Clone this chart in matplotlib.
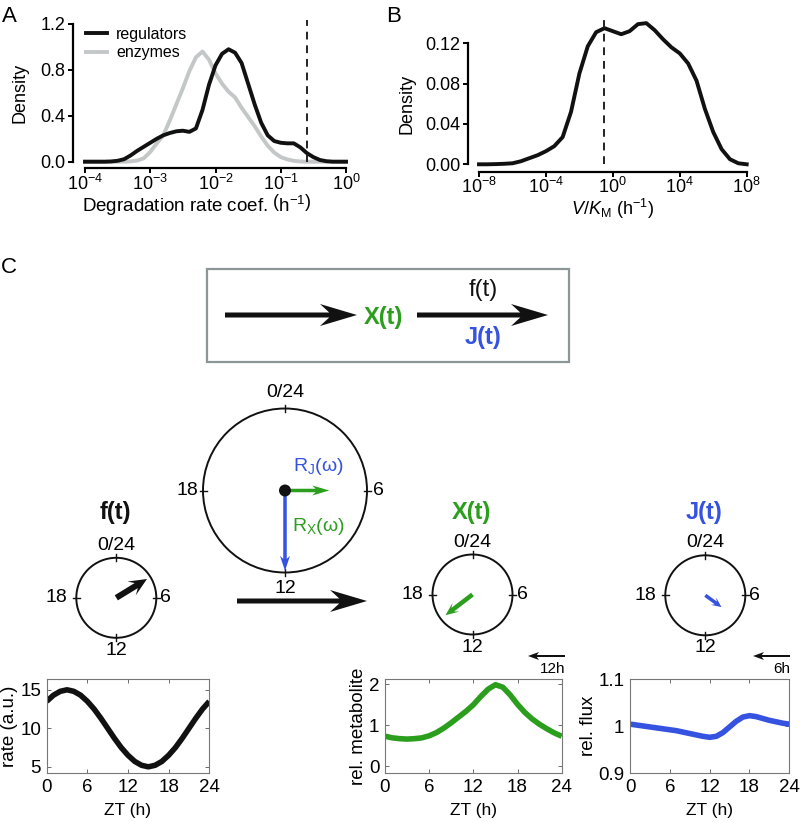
import numpy as np
import matplotlib.pyplot as plt
import matplotlib.patches as mpatches
from matplotlib.ticker import FixedLocator, NullLocator

plt.rcParams['font.family'] = ['Liberation Sans', 'DejaVu Sans']
plt.rcParams['mathtext.fontset'] = 'custom'
plt.rcParams['mathtext.rm'] = 'Liberation Sans'
plt.rcParams['mathtext.it'] = 'Liberation Sans:italic'
plt.rcParams['mathtext.bf'] = 'Liberation Sans:bold'

W, H = 802, 822

# ---- panel A: degradation rate densities (log10 k, density)
deg_logk = [-4.0, -3.9, -3.8, -3.7, -3.6, -3.5, -3.4, -3.3, -3.2, -3.1, -3.0,
            -2.9, -2.8, -2.7, -2.6, -2.5, -2.4, -2.3, -2.2, -2.1, -2.0,
            -1.9, -1.8, -1.7, -1.6, -1.5, -1.4, -1.3, -1.2, -1.1, -1.0,
            -0.9, -0.8, -0.7, -0.6, -0.5, -0.4, -0.3, -0.2, -0.1, 0.0]
regulators = [0, 0, 0, 0, 0.002, 0.008, 0.022, 0.055, 0.095, 0.13, 0.165,
              0.20, 0.23, 0.25, 0.265, 0.27, 0.26, 0.29, 0.45, 0.67, 0.84,
              0.94, 0.98, 0.95, 0.86, 0.68, 0.50, 0.34, 0.23, 0.18, 0.165,
              0.16, 0.16, 0.125, 0.075, 0.04, 0.015, 0.004, 0, 0, 0]
enzymes = [0, 0, 0, 0, 0, 0, 0, 0.003, 0.01, 0.03, 0.085,
           0.16, 0.23, 0.36, 0.50, 0.64, 0.79, 0.91, 0.96, 0.89, 0.77,
           0.68, 0.61, 0.56, 0.47, 0.39, 0.31, 0.22, 0.14, 0.08, 0.04,
           0.02, 0.008, 0.002, 0, 0, 0, 0, 0, 0, 0]
deg_cutoff = 0.25

# ---- panel B: V/KM density
vkm_log = [-8, -7.5, -7, -6.5, -6, -5.5, -5, -4.5, -4, -3.5, -3, -2.5, -2,
           -1.5, -1, -0.5, 0, 0.5, 1, 1.5, 2, 2.5, 3, 3.5, 4, 4.5, 5, 5.5,
           6, 6.5, 7, 7.5, 8]
vkm_density = [0.0, 0.0, 0.0002, 0.0005, 0.001, 0.003, 0.006, 0.009, 0.013,
               0.018, 0.027, 0.052, 0.09, 0.117, 0.131, 0.135, 0.132, 0.129,
               0.132, 0.139, 0.14, 0.133, 0.124, 0.116, 0.110, 0.100, 0.083,
               0.055, 0.032, 0.015, 0.005, 0.001, 0.0]
vkm_cutoff = 0.29

# ---- panel C: time courses
zt = list(range(25))
rate = [13.5, 14.3, 14.8, 15.0, 14.8, 14.3, 13.5, 12.5, 11.3, 10.0, 8.7,
        7.5, 6.5, 5.7, 5.2, 5.0, 5.2, 5.7, 6.5, 7.5, 8.7, 10.0, 11.3, 12.5,
        13.5]
metabolite = [0.73, 0.69, 0.67, 0.66, 0.67, 0.69, 0.74, 0.82, 0.93, 1.06,
              1.20, 1.34, 1.50, 1.70, 1.88, 1.99, 1.93, 1.74, 1.51, 1.31,
              1.15, 1.02, 0.91, 0.81, 0.73]
flux = [1.004, 1.002, 1.000, 0.998, 0.996, 0.994, 0.992, 0.990, 0.987,
        0.984, 0.981, 0.978, 0.976, 0.978, 0.986, 0.998, 1.010, 1.019,
        1.022, 1.020, 1.016, 1.012, 1.009, 1.006, 1.004]

clock_names = ['f(t)', 'X(t)', 'J(t)']
clock_phase = [3.9, 15.5, 8.4]     # h
clock_amp = [0.9, 0.85, 0.5]       # fraction of radius
shift_labels = ['12h', '6h']

GREEN = '#2b9e1e'
BLUE = '#3552e0'
GREY = '#c3c7c7'


def px(l, t, r, b):
    return [l / W, 1 - b / H, (r - l) / W, (b - t) / H]


def stealth(ax, x0, y0, x1, y1, color, shaft, hl, hw, notch=0.25, z=3):
    d = np.hypot(x1 - x0, y1 - y0)
    ux, uy = (x1 - x0) / d, (y1 - y0) / d
    nx, ny = -uy, ux
    bx, by = x1 - ux * hl, y1 - uy * hl
    cx, cy = x1 - ux * hl * (1 - notch), y1 - uy * hl * (1 - notch)
    s, h = shaft / 2, hw / 2
    pts = [(x0 + nx * s, y0 + ny * s), (cx + nx * s, cy + ny * s),
           (bx + nx * h, by + ny * h), (x1, y1),
           (bx - nx * h, by - ny * h), (cx - nx * s, cy - ny * s),
           (x0 - nx * s, y0 - ny * s)]
    ax.add_patch(mpatches.Polygon(pts, closed=True, fc=color, ec='none', zorder=z))


fig = plt.figure(figsize=(W / 100, H / 100), dpi=100)
ov = fig.add_axes([0, 0, 1, 1])
ov.set_xlim(0, W)
ov.set_ylim(H, 0)
ov.axis('off')

# panel letters
ov.text(9, 16, 'A', fontsize=16, ha='center', va='center')
ov.text(394, 16, 'B', fontsize=16, ha='center', va='center')
ov.text(9, 267, 'C', fontsize=16, ha='center', va='center')


def r_style(ax, left_out, bottom_out):
    for s in ['top', 'right']:
        ax.spines[s].set_visible(False)
    ax.spines['left'].set_position(('outward', left_out))
    ax.spines['bottom'].set_position(('outward', bottom_out))
    for s in ['left', 'bottom']:
        ax.spines[s].set_linewidth(1.6)
    ax.patch.set_visible(False)
    ax.xaxis.set_minor_locator(NullLocator())
    ax.tick_params(labelsize=13, width=1.4, length=3.5)
    ax.tick_params(axis='x', pad=0.5)
    ax.tick_params(axis='y', pad=2)


# ---- A
axA = fig.add_axes(px(85, 24, 346, 161.7))
kx = 10 ** np.array(deg_logk)
lg = axA.plot(kx, enzymes, color=GREY, lw=2.8, clip_on=False, label='enzymes')
lb = axA.plot(kx, regulators, color='#111111', lw=2.8, clip_on=False, label='regulators')
axA.vlines(deg_cutoff, 0, 1.235, colors='#222222', linestyles=(0, (4, 3)),
           lw=1.4, clip_on=False)
axA.set_xscale('log')
axA.set_xlim(1e-4, 1)
axA.set_ylim(0, 1.2)
r_style(axA, 8.6, 4.5)
axA.xaxis.set_major_locator(FixedLocator([1e-4, 1e-3, 1e-2, 1e-1, 1]))
axA.set_xticklabels([r'$10^{-4}$', r'$10^{-3}$', r'$10^{-2}$', r'$10^{-1}$', r'$10^{0}$'])
axA.set_yticks([0, 0.4, 0.8, 1.2])
axA.set_yticklabels(['0.0', '0.4', '0.8', '1.2'])
axA.set_ylabel('Density', fontsize=13)
axA.yaxis.label.set_va('center')
axA.yaxis.set_label_coords(-0.25, 0.5)
axA.set_xlabel(r'Degradation rate coef. $\left(\mathregular{h^{-1}}\right)$', fontsize=13.5)
axA.xaxis.set_label_coords(0.43, -0.31)
axA.xaxis.label.set_va('center')
axA.legend(handles=[lb[0], lg[0]], frameon=False, fontsize=11.5,
           loc='upper left', bbox_to_anchor=(86 / W, 1 - 27 / H),
           bbox_transform=fig.transFigure, borderpad=0, borderaxespad=0,
           handlelength=1.3, handletextpad=0.6, labelspacing=0.2)

# ---- B
axB = fig.add_axes(px(479, 43.3, 746.7, 164.3))
axB.plot(10 ** np.array(vkm_log, dtype=float), vkm_density, color='#111111',
         lw=2.8, clip_on=False)
axB.vlines(vkm_cutoff, 0, 0.143, colors='#222222', linestyles=(0, (4, 3)),
           lw=1.4, clip_on=False)
axB.set_xscale('log')
axB.set_xlim(1e-8, 1e8)
axB.set_ylim(0, 0.12)
r_style(axB, 7.7, 5.3)
axB.xaxis.set_major_locator(FixedLocator([1e-8, 1e-4, 1, 1e4, 1e8]))
axB.set_xticklabels([r'$10^{-8}$', r'$10^{-4}$', r'$10^{0}$', r'$10^{4}$', r'$10^{8}$'])
axB.set_yticks([0, 0.04, 0.08, 0.12])
axB.set_yticklabels(['0.00', '0.04', '0.08', '0.12'])
axB.set_ylabel('Density', fontsize=13)
axB.yaxis.label.set_va('center')
axB.yaxis.set_label_coords(-0.27, 0.5)
axB.set_xlabel(r'$V/K_\mathregular{M}$ (h$^{-1}$)', fontsize=13)
axB.xaxis.set_label_coords(0.5, -0.37)
axB.xaxis.label.set_va('center')

# ---- C: scheme box
ov.add_patch(mpatches.Rectangle((207, 269), 362, 93, fill=False, ec='#8c9696', lw=1.6))
stealth(ov, 225, 315, 357, 315, '#111111', 5, 37, 22)
stealth(ov, 417, 315, 548, 315, '#111111', 5, 37, 22)
ov.text(383, 317, 'X(t)', color=GREEN, fontsize=17, fontweight='bold', ha='center', va='center')
ov.text(483, 290, 'f(t)', color='#111111', fontsize=17, ha='center', va='center')
ov.text(483, 337, 'J(t)', color=BLUE, fontsize=17, fontweight='bold', ha='center', va='center')


def clock_face(cx, cy, r, fs, top_off, side_gap_l, side_gap_r):
    ov.add_patch(mpatches.Circle((cx, cy), r, fill=False, ec='#111111', lw=1.4))
    t = 3.5
    ov.plot([cx, cx], [cy - r - t, cy - r + t], color='#111111', lw=1)
    ov.plot([cx, cx], [cy + r - t, cy + r + t], color='#111111', lw=1)
    ov.plot([cx - r - t, cx - r + t], [cy, cy], color='#111111', lw=1)
    ov.plot([cx + r - t, cx + r + t], [cy, cy], color='#111111', lw=1)
    ov.text(cx, cy - r - top_off, '0/24', fontsize=fs, ha='center', va='center')
    ov.text(cx, cy + r + top_off, '12', fontsize=fs, ha='center', va='center')
    ov.text(cx - r - side_gap_l, cy, '18', fontsize=fs, ha='right', va='center')
    ov.text(cx + r + side_gap_r, cy, '6', fontsize=fs, ha='left', va='center')


# big phase circle
bcx, bcy, br = 285, 490.5, 82
clock_face(bcx, bcy, br, 14, 16, 5, 6)
stealth(ov, bcx, bcy, bcx, bcy + br * 0.98, BLUE, 3.5, 15, 10, 0.2)
stealth(ov, bcx, bcy, bcx + br * 0.54, bcy, GREEN, 3.5, 17, 10, 0.2)
ov.add_patch(mpatches.Circle((bcx, bcy), 6, fc='#111111', ec='none', zorder=5))
ov.text(293, 466, r'R$_\mathregular{J}$(ω)', color=BLUE, fontsize=14, va='center')
ov.text(292, 526, r'R$_\mathregular{X}$(ω)', color=GREEN, fontsize=14, va='center')

# main arrow f -> X
stealth(ov, 237, 601, 367, 601, '#111111', 5, 37, 22)

# small clocks
centers = [(116.3, 597.8), (472.5, 594.5), (705.3, 595.3)]
hand_colors = ['#111111', GREEN, BLUE]
hand_style = [(6, 18, 16), (4.5, 13, 11), (3.5, 10, 9)]
for (cx, cy), name, ph, amp, hc, hs in zip(centers, clock_names, clock_phase,
                                           clock_amp, hand_colors, hand_style):
    r = 40
    clock_face(cx, cy, r, 14, 12.5, 9, 4)
    th = ph / 24 * 2 * np.pi
    stealth(ov, cx, cy, cx + amp * r * np.sin(th), cy - amp * r * np.cos(th),
            hc, hs[0], hs[1], hs[2], 0.3)
    ov.text(cx - 1, 512, name, color=hc, fontsize=17, fontweight='bold',
            ha='center', va='center')

# phase shift arrows
for (x0, x1), lab in zip([(565, 528), (790, 753)], shift_labels):
    stealth(ov, x0, 656, x1, 656, '#111111', 2, 11, 8, 0.2)
    ov.text(x0, 669, lab, fontsize=11, ha='right', va='center')


# ---- C: bottom time courses
def zt_axes(l, r, y, color, ylim, yt, ytl, ylab, labx):
    ax = fig.add_axes(px(l, 679, r, 773))
    ax.plot(zt, y, color=color, lw=4, solid_capstyle='butt')
    ax.set_xlim(0, 24)
    ax.set_ylim(*ylim)
    ax.set_xticks([0, 6, 12, 18, 24])
    ax.set_yticks(yt)
    ax.set_yticklabels(ytl)
    ax.tick_params(direction='in', top=True, right=True, length=3, width=0.6,
                   color='#555555', labelsize=13.5, pad=4)
    for s in ax.spines.values():
        s.set_color('#777777')
        s.set_linewidth(0.8)
    ax.set_xlabel('ZT (h)', fontsize=12.5, labelpad=5)
    ax.set_ylabel(ylab, fontsize=13.5)
    ax.yaxis.label.set_va('center')
    ax.yaxis.set_label_coords(labx, 0.5)
    return ax


zt_axes(46.7, 209.3, rate, '#111111', (4.2, 16.4), [5, 10, 15], ['5', '10', '15'],
        'rate (a.u.)', -0.226)
zt_axes(385, 561.7, metabolite, GREEN, (-0.17, 2.13), [0, 1, 2], ['0', '1', '2'],
        'rel. metabolite', -0.15)
zt_axes(630, 789.3, flux, BLUE, (0.9, 1.1), [0.9, 1.0, 1.1], ['0.9', '1', '1.1'],
        'rel. flux', -0.262)

fig.savefig('out.png', dpi=100)
